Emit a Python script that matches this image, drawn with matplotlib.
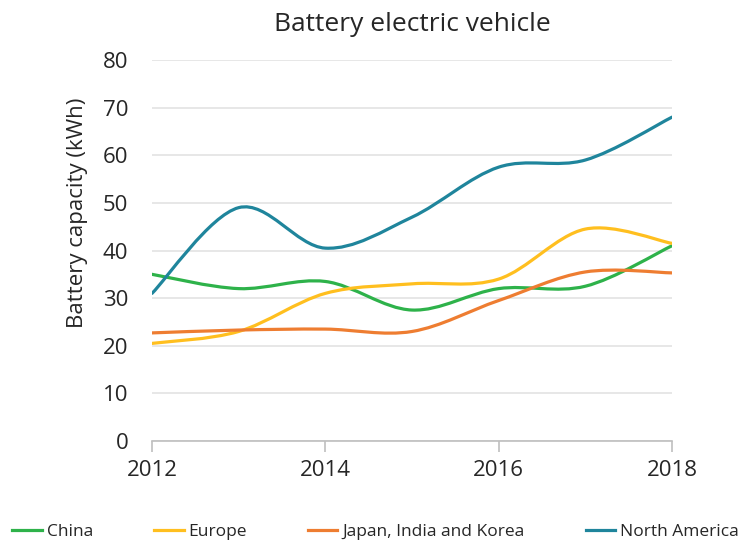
import matplotlib
matplotlib.use("Agg")
import matplotlib.pyplot as plt
import numpy as np
from matplotlib.path import Path
from matplotlib.patches import PathPatch
from matplotlib.lines import Line2D

plt.rcParams["font.family"] = ["Open Sans", "DejaVu Sans"]

years = [2012, 2013, 2014, 2015, 2016, 2017, 2018]
china = [35.0, 32.0, 33.5, 27.5, 32.0, 32.5, 41.0]
europe = [20.5, 23.0, 31.0, 33.0, 34.0, 44.5, 41.5]
japan_india_korea = [22.7, 23.3, 23.5, 23.0, 29.5, 35.5, 35.3]
north_america = [31.0, 49.0, 40.5, 47.0, 57.5, 59.0, 68.0]

series_names = ["China", "Europe", "Japan, India and Korea", "North America"]
series_values = [china, europe, japan_india_korea, north_america]
colors = ["#2eb24a", "#ffbf1f", "#ee7d31", "#1f859c"]


def smooth_path(x, y):
    # Excel-like smoothed line: cubic Bezier segments with cardinal control points
    pts = np.column_stack([x, y]).astype(float)
    n = len(pts)
    verts = [pts[0]]
    codes = [Path.MOVETO]
    for i in range(n - 1):
        p0 = pts[i - 1] if i > 0 else pts[i]
        p1 = pts[i]
        p2 = pts[i + 1]
        p3 = pts[i + 2] if i + 2 < n else pts[i + 1]
        c1 = p1 + (p2 - p0) / 6.0
        c2 = p2 - (p3 - p1) / 6.0
        verts += [c1, c2, p2]
        codes += [Path.CURVE4] * 3
    return Path(verts, codes)


fig = plt.figure(figsize=(7.44, 5.43), dpi=100)
ax = fig.add_axes([0.2043, 0.1878, 0.6989, 0.7017])

for name, vals, col in zip(series_names, series_values, colors):
    patch = PathPatch(smooth_path(years, vals), facecolor="none", edgecolor=col,
                      linewidth=2.3, capstyle="round", zorder=3)
    ax.add_patch(patch)

ax.set_xlim(2012, 2018)
ax.set_ylim(0, 80)
ax.set_yticks(range(0, 81, 10))
ax.set_xticks([2012, 2014, 2016, 2018])
ax.yaxis.grid(True, color="#e3e3e3", linewidth=1.2)
ax.set_axisbelow(True)
for s in ["left", "right", "top"]:
    ax.spines[s].set_visible(False)
ax.spines["bottom"].set_color("#bfbfbf")
ax.spines["bottom"].set_linewidth(1.2)
ax.tick_params(axis="y", length=0, pad=17, labelsize=16, labelcolor="#262626")
ax.tick_params(axis="x", length=8, width=1.2, color="#bfbfbf", pad=6,
               labelsize=16, labelcolor="#262626")

ax.set_ylabel("Battery capacity (kWh)", fontsize=16, color="#262626",
              labelpad=11, y=0.6)
ax.set_title("Battery electric vehicle", fontsize=19, color="#262626", pad=21)

handles = [Line2D([], [], color=c, linewidth=2.3) for c in colors]
fig.legend(handles, series_names, loc="lower center", ncol=4,
           bbox_to_anchor=(0.505, -0.024), frameon=False, fontsize=12.5,
           handlelength=1.7, handletextpad=0.3, columnspacing=3.5,
           labelcolor="#262626")

fig.savefig("out.png", dpi=100)
